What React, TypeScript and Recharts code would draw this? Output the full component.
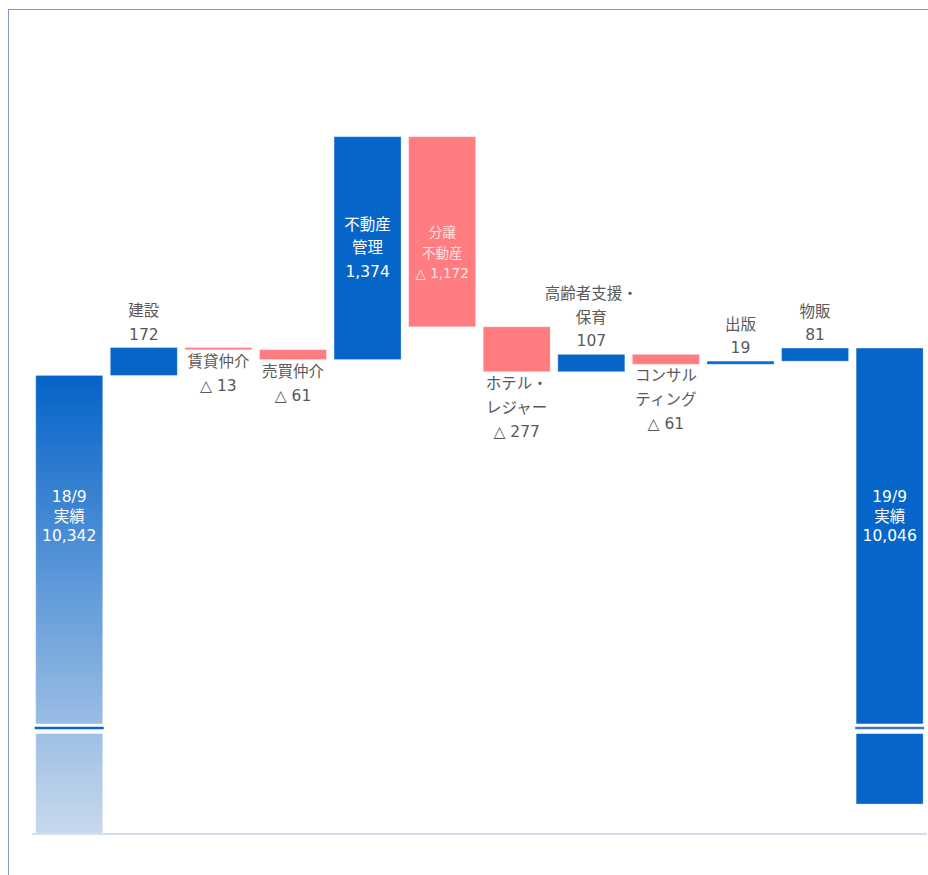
import { BarChart, Bar, XAxis, YAxis, ReferenceLine } from "recharts";

// 営業利益の増減（億円、18/9 → 19/9）
const CATEGORIES = [
  "18/9\n実績",
  "建設",
  "賃貸仲介",
  "売買仲介",
  "不動産\n管理",
  "分譲\n不動産",
  "ホテル・\nレジャー",
  "高齢者支援・\n保育",
  "コンサル\nティング",
  "出版",
  "物販",
  "19/9\n実績",
];
const START_VALUE = 10342;
const DELTAS = [172, -13, -61, 1374, -1172, -277, 107, -61, 19, 81];
const END_VALUE = 10046;

// broken value axis: bottom of the scale, where the break sits, floor of the end bar
const AXIS_MIN = 7515;
const AXIS_MAX = 12410;
const BREAK_AT = 8170;
const END_FLOOR = 7700;

const BLUE = "#0665C8";
const PINK = "#FF7C80";
const GREY_TEXT = "#595959";
const FONT = "'DejaVu Sans', 'Noto Sans CJK JP', sans-serif";

type Row = {
  name: string;
  range: [number, number];
  kind: "total" | "up" | "down";
  shown: number;
};

const rows: Row[] = [];
rows.push({ name: CATEGORIES[0], range: [AXIS_MIN, START_VALUE], kind: "total", shown: START_VALUE });
let running = START_VALUE;
DELTAS.forEach((d, i) => {
  const next = running + d;
  rows.push({
    name: CATEGORIES[i + 1],
    range: [Math.min(running, next), Math.max(running, next)],
    kind: d >= 0 ? "up" : "down",
    shown: d,
  });
  running = next;
});
rows.push({ name: CATEGORIES[11], range: [END_FLOOR, running], kind: "total", shown: END_VALUE });

const fmt = (v: number) => (v < 0 ? "△ " : "") + Math.abs(v).toLocaleString("en-US");

function WaterfallBar(props: any) {
  const { x, y, width, height, index } = props;
  const row: Row = props.payload && props.payload.range ? props.payload : rows[index];
  const top = Math.min(y, y + height);
  const h = Math.abs(height);
  const bottom = top + h;
  const [low, high] = row.range;
  const cx = x + width / 2;
  const valueY = (v: number) => top + (h * (high - v)) / (high - low);

  const fill =
    index === 0 ? "url(#startGrad)" : row.kind === "down" ? PINK : BLUE;
  const lines = [...row.name.split("\n"), fmt(row.shown)];

  let texts: { y: number; s: string }[] = [];
  let color = GREY_TEXT;
  let size = 15.5;
  if (row.kind === "total") {
    const mid = valueY(BREAK_AT) - 211;
    texts = lines.map((s, i) => ({ s, y: mid + (i - 1) * 19.5 }));
    color = "#ffffff";
  } else if (Math.abs(row.shown) > 1000) {
    if (row.kind === "up") {
      const c = top + h / 2;
      texts = lines.map((s, i) => ({ s, y: c + (i - 1) * 23.5 }));
      color = "#ffffff";
    } else {
      const c = top + h / 2 + 21;
      texts = lines.map((s, i) => ({ s, y: c + (i - 1) * 20.5 }));
      color = "#FFE3E4";
      size = 13.5;
    }
  } else if (row.kind === "up") {
    texts = lines.map((s, i) => ({ s, y: top - 13 - (lines.length - 1 - i) * 23.5 }));
  } else {
    texts = lines.map((s, i) => ({ s, y: bottom + 12 + i * 24 }));
  }

  const breakY = row.kind === "total" ? valueY(BREAK_AT) : 0;

  return (
    <g>
      {index === 0 && (
        <defs>
          <linearGradient id="startGrad" x1="0" y1="0" x2="0" y2="1">
            <stop offset="0%" stopColor="#0563C8" />
            <stop offset="100%" stopColor="#C9D9ED" />
          </linearGradient>
        </defs>
      )}
      <rect
        x={x}
        y={top}
        width={width}
        height={h}
        fill={fill}
        stroke="rgba(255,255,255,0.3)"
        strokeWidth={1}
      />
      {row.kind === "total" && (
        <g>
          <rect x={x - 1} y={breakY - 4} width={width + 2} height={10} fill="#ffffff" />
          <rect x={x - 1} y={breakY - 1} width={width + 2} height={2.5} fill={index === 0 ? BLUE : "#3F78BE"} />
        </g>
      )}
      {texts.map((t, i) => (
        <text
          key={i}
          x={cx}
          y={t.y}
          textAnchor="middle"
          dominantBaseline="central"
          fontSize={size}
          fontFamily={FONT}
          fill={color}
        >
          {t.s}
        </text>
      ))}
    </g>
  );
}

export default function App() {
  return (
    <div style={{ position: "relative", width: 928, height: 875, background: "#ffffff" }}>
      <style>{"body { margin: 0; }"}</style>
      <div
        style={{
          position: "absolute",
          left: 8,
          top: 9,
          width: 920,
          height: 866,
          borderTop: "1px solid #7F9CC5",
          borderLeft: "1px solid #7F9CC5",
          boxSizing: "border-box",
        }}
      >
        <BarChart
          width={919}
          height={845}
          data={rows}
          margin={{ top: 30, right: 1, left: 23, bottom: 21 }}
          barCategoryGap="5%"
        >
          <XAxis dataKey="name" hide />
          <YAxis hide type="number" domain={[AXIS_MIN, AXIS_MAX]} allowDataOverflow />
          <ReferenceLine y={AXIS_MIN} stroke="#D5DFEC" strokeWidth={2} />
          <Bar dataKey="range" shape={<WaterfallBar />} isAnimationActive={false} />
        </BarChart>
      </div>
    </div>
  );
}
